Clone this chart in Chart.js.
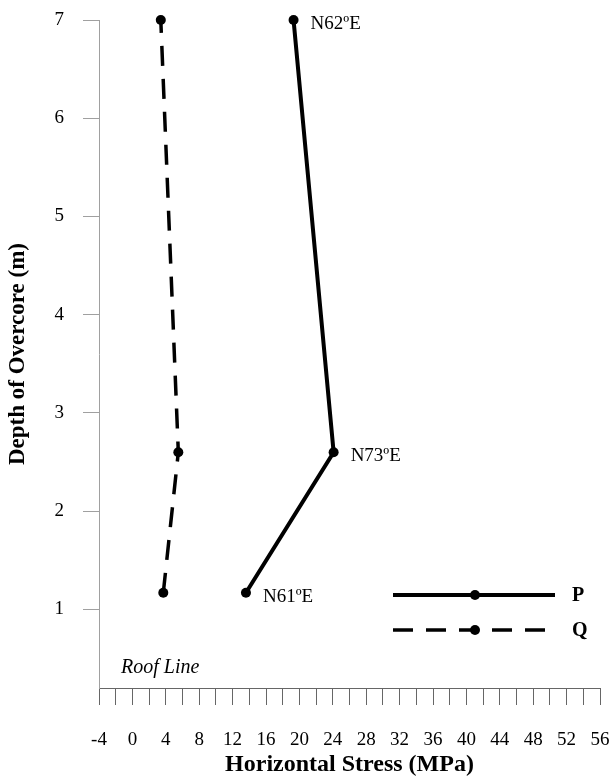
<!DOCTYPE html>
<html>
<head>
<meta charset="utf-8">
<script src="https://cdn.jsdelivr.net/npm/chart.js@4.4.1/dist/chart.umd.min.js"></script>
<style>
  body { margin: 0; background: #fff; }
  #wrap { width: 614px; height: 776px; }
</style>
</head>
<body>
<div id="wrap"><canvas id="stressChart" width="614" height="776"></canvas></div>
<script>
const depths = [1.17, 2.6, 7];
const stressP = [13.6, 24.1, 19.3];
const stressQ = [3.7, 5.5, 3.4];
const pLabels = ['N61ºE', 'N73ºE', 'N62ºE'];
const depthTicks = [1, 2, 3, 4, 5, 6, 7];

const serif = "'Liberation Serif', 'Times New Roman', serif";

const toPoints = (xs) => xs.map((x, i) => ({ x: x, y: depths[i] }));

// bearing labels next to the P points, roof line note and the legend
const extrasPlugin = {
  id: 'extras',
  afterDatasetsDraw(chart) {
    const { ctx, chartArea, scales } = chart;
    ctx.save();
    ctx.fillStyle = '#000';
    ctx.font = '19px ' + serif;
    ctx.textBaseline = 'middle';
    ctx.textAlign = 'left';
    pLabels.forEach((txt, i) => {
      const px = scales.x.getPixelForValue(stressP[i]);
      const py = scales.y.getPixelForValue(depths[i]);
      ctx.fillText(txt, px + 17, py + 4);
    });

    ctx.font = 'italic 20px ' + serif;
    ctx.fillText('Roof Line', chartArea.left + 22, chartArea.bottom - 20);

    // legend
    const x0 = 393, x1 = 555, xm = 475;
    const rows = [
      { label: 'P', y: 595, dash: [] , width: 4 },
      { label: 'Q', y: 630, dash: [20, 13], width: 3.5 },
    ];
    rows.forEach((r) => {
      ctx.strokeStyle = '#000';
      ctx.lineWidth = r.width;
      ctx.setLineDash(r.dash);
      ctx.beginPath();
      ctx.moveTo(x0, r.y);
      ctx.lineTo(x1, r.y);
      ctx.stroke();
      ctx.setLineDash([]);
      ctx.beginPath();
      ctx.arc(xm, r.y, 5, 0, Math.PI * 2);
      ctx.fill();
      ctx.font = 'bold 20px ' + serif;
      ctx.fillText(r.label, 572, r.y + 1);
    });
    ctx.restore();
  },
};

new Chart(document.getElementById('stressChart'), {
  type: 'scatter',
  data: {
    datasets: [
      {
        label: 'P',
        data: toPoints(stressP),
        showLine: true,
        clip: false,
        borderColor: '#000',
        backgroundColor: '#000',
        borderWidth: 4,
        pointRadius: 5,
        pointBorderWidth: 0,
      },
      {
        label: 'Q',
        data: toPoints(stressQ),
        showLine: true,
        clip: false,
        borderColor: '#000',
        backgroundColor: '#000',
        borderWidth: 3.5,
        borderDash: [20, 13],
        pointRadius: 5,
        pointBorderWidth: 0,
      },
    ],
  },
  options: {
    responsive: false,
    animation: false,
    layout: { padding: { left: 0, right: 14, top: 20, bottom: 0 } },
    plugins: {
      legend: { display: false },
      tooltip: { enabled: false },
    },
    scales: {
      x: {
        type: 'linear',
        min: -4,
        max: 56,
        afterFit: (scale) => {
          scale.height = 88;
          scale.paddingLeft = 0;
          scale.paddingRight = 0;
        },
        grid: { drawOnChartArea: false, drawTicks: true, tickLength: 17, color: '#666', lineWidth: 1 },
        border: { color: '#666', width: 1 },
        ticks: {
          stepSize: 2,
          padding: 24,
          autoSkip: false,
          maxRotation: 0,
          minRotation: 0,
          color: '#000',
          font: { family: serif, size: 19 },
          callback: (v) => (v % 4 === 0 ? String(v) : ''),
        },
        title: {
          display: true,
          text: 'Horizontal Stress (MPa)',
          color: '#000',
          font: { family: serif, size: 24, weight: 'bold', lineHeight: 1 },
          padding: { top: 0, bottom: -1 },
        },
      },
      y: {
        type: 'linear',
        min: 0.2,
        max: 7,
        afterFit: (scale) => {
          scale.width = 99;
          scale.paddingTop = 0;
          scale.paddingBottom = 0;
        },
        afterBuildTicks: (scale) => { scale.ticks = depthTicks.map((v) => ({ value: v })); },
        grid: { drawOnChartArea: false, drawTicks: true, tickLength: 16, color: '#a0a0a0', lineWidth: 1 },
        border: { color: '#a0a0a0', width: 1 },
        ticks: {
          padding: 19,
          color: '#000',
          font: { family: serif, size: 19 },
        },
        title: {
          display: true,
          text: 'Depth of Overcore (m)',
          color: '#000',
          font: { family: serif, size: 23, weight: 'bold', lineHeight: 1.2 },
          padding: { top: 4, bottom: 0 },
        },
      },
    },
  },
  plugins: [extrasPlugin],
});
</script>
</body>
</html>
